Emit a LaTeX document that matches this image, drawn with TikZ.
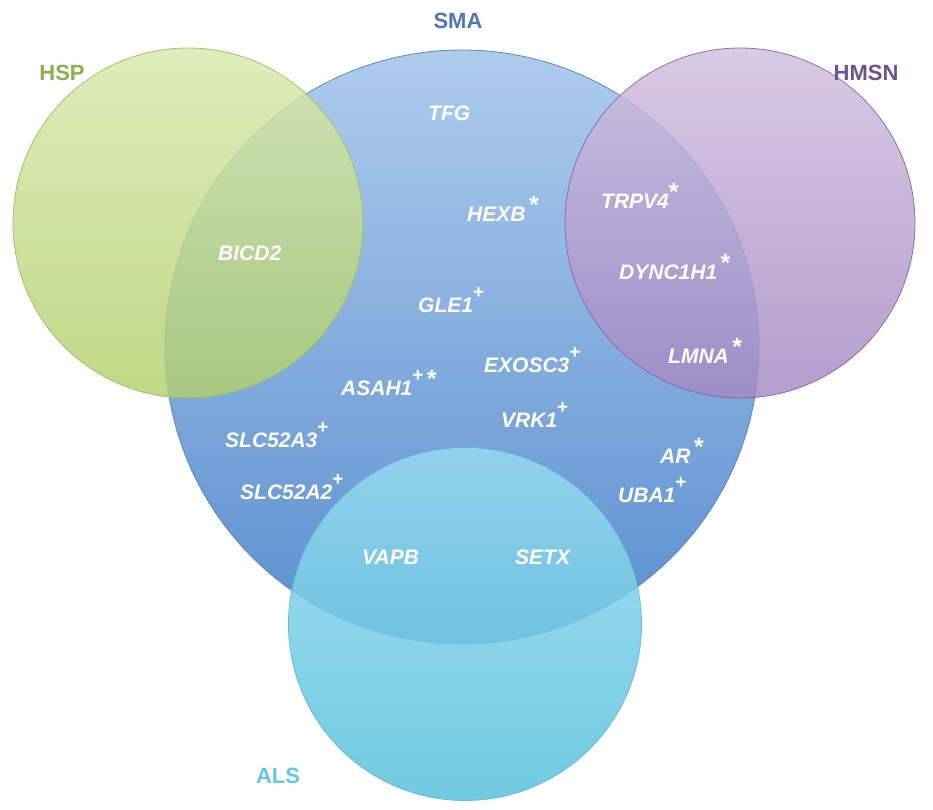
\documentclass[tikz,border=0pt]{standalone}
\usepackage{fontspec}
\setmainfont{Liberation Sans}
\begin{document}
\begin{tikzpicture}[x=1pt,y=-1pt,
  venn/.style={circle,inner sep=0pt,line width=0.8pt},
  gene/.style={anchor=base west,inner sep=0pt,text=white,font=\fontsize{21}{24}\selectfont\bfseries\itshape},
  setlabel/.style={inner sep=0pt,font=\fontsize{22}{26}\selectfont\bfseries}]
\newcommand\gsupp[1]{\raisebox{0.66em}{\fontsize{19}{19}\selectfont\upshape #1}}
\newcommand\gstar{\raisebox{0.4em}{\fontsize{25}{25}\selectfont\upshape *}}
\useasboundingbox (0,0) rectangle (933,810);
\fill[white] (0,0) rectangle (933,810);
\definecolor{smatop}{HTML}{AECCEC}
\definecolor{smabot}{HTML}{5A8ED0}
\definecolor{smaline}{HTML}{5C86BE}
\definecolor{hsptop}{HTML}{D8E9AC}
\definecolor{hspbot}{HTML}{B2CF6C}
\definecolor{hspline}{HTML}{9DBE62}
\definecolor{hmtop}{HTML}{D0BEDF}
\definecolor{hmbot}{HTML}{A588C2}
\definecolor{hmline}{HTML}{8467A6}
\definecolor{alstop}{HTML}{98DAF0}
\definecolor{alsbot}{HTML}{58C1DC}
\definecolor{alsline}{HTML}{5BBAD6}
\definecolor{smatext}{HTML}{4F77B4}
\definecolor{hsptext}{HTML}{8DB04F}
\definecolor{hmtext}{HTML}{6E5393}
\definecolor{alstext}{HTML}{66C5EC}
% circles
\node[venn,minimum size=594pt,draw=smaline,top color=smatop,bottom color=smabot] (sma) at (462,347) {};
\node[venn,minimum size=350pt,draw=hspline,top color=hsptop,bottom color=hspbot,fill opacity=0.82,draw opacity=0.9] (hsp) at (188,223) {};
\node[venn,minimum size=350pt,draw=hmline,top color=hmtop,bottom color=hmbot,fill opacity=0.82,draw opacity=0.9] (hmsn) at (740,223) {};
\node[venn,minimum size=353pt,draw=alsline,top color=alstop,bottom color=alsbot,fill opacity=0.85,draw opacity=0.9] (als) at (465,624) {};
% set labels
\node[setlabel,text=smatext] (lsma) at (458,21) {SMA};
\node[setlabel,text=hsptext] (lhsp) at (62,73) {HSP};
\node[setlabel,text=hmtext] (lhmsn) at (866,73) {HMSN};
\node[setlabel,text=alstext] (lals) at (278,776) {ALS};
% genes
\node[gene] (tfg) at (428,120.5) {TFG};
\node[gene] (hexb) at (467,221.5) {HEXB\,\gstar};
\node[gene] (bicd2) at (218,260.5) {BICD2};
\node[gene] (gle1) at (418,312.5) {GLE1\gsupp{+}};
\node[gene] (trpv4) at (601,208.5) {TRPV4\gstar};
\node[gene] (dync) at (619,279.5) {DYNC1H1\,\gstar};
\node[gene] (lmna) at (668,363.5) {LMNA\,\gstar};
\node[gene] (exosc3) at (484,372.5) {EXOSC3\gsupp{+}};
\node[gene] (asah1) at (341,395.5) {ASAH1\gsupp{+}\,\gstar};
\node[gene] (vrk1) at (501,427.5) {VRK1\gsupp{+}};
\node[gene] (slc3) at (225,447.5) {SLC52A3\gsupp{+}};
\node[gene] (ar) at (660,463.5) {AR\,\gstar};
\node[gene] (slc2) at (240,499.5) {SLC52A2\gsupp{+}};
\node[gene] (uba1) at (618,502.5) {UBA1\gsupp{+}};
\node[gene] (vapb) at (362,564.5) {VAPB};
\node[gene] (setx) at (515,564.5) {SETX};
\end{tikzpicture}
\end{document}
